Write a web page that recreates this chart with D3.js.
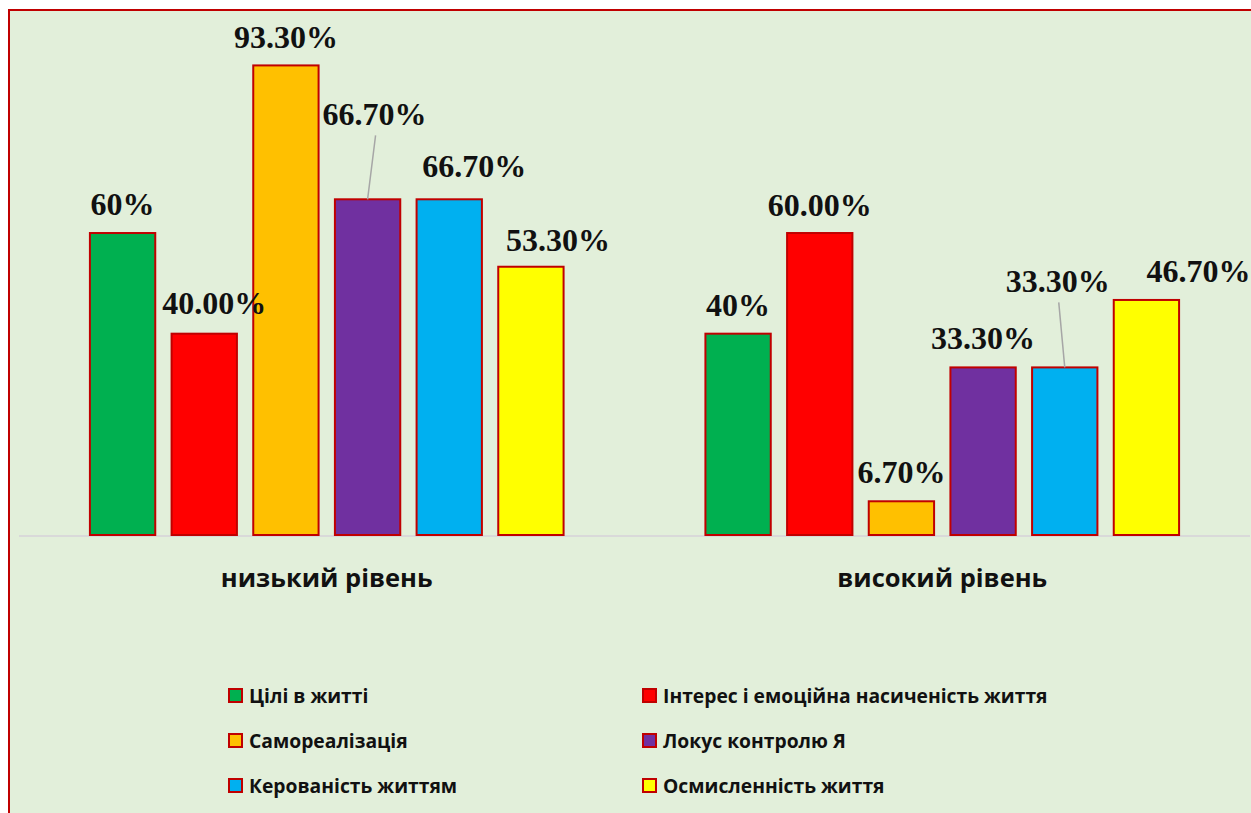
<!DOCTYPE html>
<html>
<head>
<meta charset="utf-8">
<script src="https://cdn.jsdelivr.net/npm/d3@7"></script>
<style>
  html, body { margin: 0; padding: 0; background: #ffffff; }
  svg { display: block; }
</style>
</head>
<body>
<svg id="chart" width="1251" height="813"></svg>
<script>
// ---- data ----
const categories = ["низький рівень", "високий рівень"];
const seriesNames = [
  "Цілі в житті",
  "Інтерес і емоційна насиченість життя",
  "Самореалізація",
  "Локус контролю Я",
  "Керованість життям",
  "Осмисленність життя"
];
const lowLevel  = [60, 40.0, 93.3, 66.7, 66.7, 53.3];
const highLevel = [40, 60.0, 6.7, 33.3, 33.3, 46.7];
const lowLabels  = ["60%", "40.00%", "93.30%", "66.70%", "66.70%", "53.30%"];
const highLabels = ["40%", "60.00%", "6.70%", "33.30%", "33.30%", "46.70%"];
const seriesColors = ["#00B050", "#FF0000", "#FFC000", "#7030A0", "#00B0F0", "#FFFF00"];

// label placement tweaks (layout only): [dx, dy above bar top, leader line?]
const lowLabelPos  = [[0, 18, false], [10, 20, false], [0, 17, false], [7, 74, true], [25, 22, false], [27, 16, false]];
const highLabelPos = [[0, 18, false], [0, 17, false], [0, 18, false], [0, 18, false], [-7, 75, true], [52, 18, false]];

const values = [lowLevel, highLevel];
const labels = [lowLabels, highLabels];
const labelPos = [lowLabelPos, highLabelPos];

// ---- layout ----
const svg = d3.select("#chart");
const W = 1251, H = 813;
const sansFont = "'Open Sans', 'Noto Sans', sans-serif";

svg.append("rect").attr("x", 9).attr("y", 10).attr("width", W + 10).attr("height", H + 10)
  .attr("fill", "#E2EFDA").attr("stroke", "#C00000").attr("stroke-width", 2);

const plotLeft = 19, plotRight = 1250;
const baseY = 535;
const y = d3.scaleLinear().domain([0, 100]).range([baseY, baseY - 503.3]);

const x0 = d3.scaleBand().domain(categories).range([plotLeft, plotRight]);
const groupW = 490;
const x1 = d3.scaleBand().domain(seriesNames)
  .range([x0.bandwidth() / 2 - groupW / 2, x0.bandwidth() / 2 + groupW / 2])
  .paddingInner(0.2).paddingOuter(0.1);

// baseline
svg.append("line").attr("x1", plotLeft).attr("x2", plotRight)
  .attr("y1", baseY + 1).attr("y2", baseY + 1)
  .attr("stroke", "#D9D9D9").attr("stroke-width", 2);

const barLayer = svg.append("g");
const labelLayer = svg.append("g");
categories.forEach((cat, ci) => {
  const gx = x0(cat);
  seriesNames.forEach((s, si) => {
    const v = values[ci][si];
    const bx = gx + x1(s);
    const bw = x1.bandwidth();
    barLayer.append("rect")
      .attr("x", bx).attr("y", y(v))
      .attr("width", bw).attr("height", y(0) - y(v))
      .attr("fill", seriesColors[si])
      .attr("stroke", "#C00000").attr("stroke-width", 2);

    const [dx, dy, leader] = labelPos[ci][si];
    const cx = bx + bw / 2;
    const ty = y(v) - dy;
    if (leader) {
      labelLayer.append("line")
        .attr("x1", cx + dx + 1).attr("y1", ty + 10)
        .attr("x2", cx).attr("y2", y(v))
        .attr("stroke", "#A6A6A6").attr("stroke-width", 1.5);
    }
    labelLayer.append("text")
      .attr("x", cx + dx).attr("y", ty)
      .attr("text-anchor", "middle")
      .attr("font-family", "'Liberation Serif', 'Times New Roman', serif")
      .attr("font-weight", "bold")
      .attr("font-size", 32)
      .attr("fill", "#111111")
      .text(labels[ci][si]);
  });

  svg.append("text")
    .attr("x", gx + x0.bandwidth() / 2).attr("y", 587)
    .attr("text-anchor", "middle")
    .attr("font-family", sansFont)
    .attr("font-weight", "bold")
    .attr("font-size", 25.5)
    .attr("fill", "#111111")
    .text(cat);
});

// legend
const legendX = [228, 642];
const legendY = [695.5, 740.5, 785.5];
seriesNames.forEach((s, i) => {
  const col = i % 2, row = Math.floor(i / 2);
  const lx = legendX[col], ly = legendY[row];
  svg.append("rect")
    .attr("x", lx + 1).attr("y", ly - 6.5)
    .attr("width", 13).attr("height", 13)
    .attr("fill", seriesColors[i])
    .attr("stroke", "#C00000").attr("stroke-width", 2);
  svg.append("text")
    .attr("x", lx + 21).attr("y", ly + 7)
    .attr("font-family", sansFont)
    .attr("font-weight", "bold")
    .attr("font-size", 19.3)
    .attr("fill", "#111111")
    .text(s);
});
</script>
</body>
</html>
